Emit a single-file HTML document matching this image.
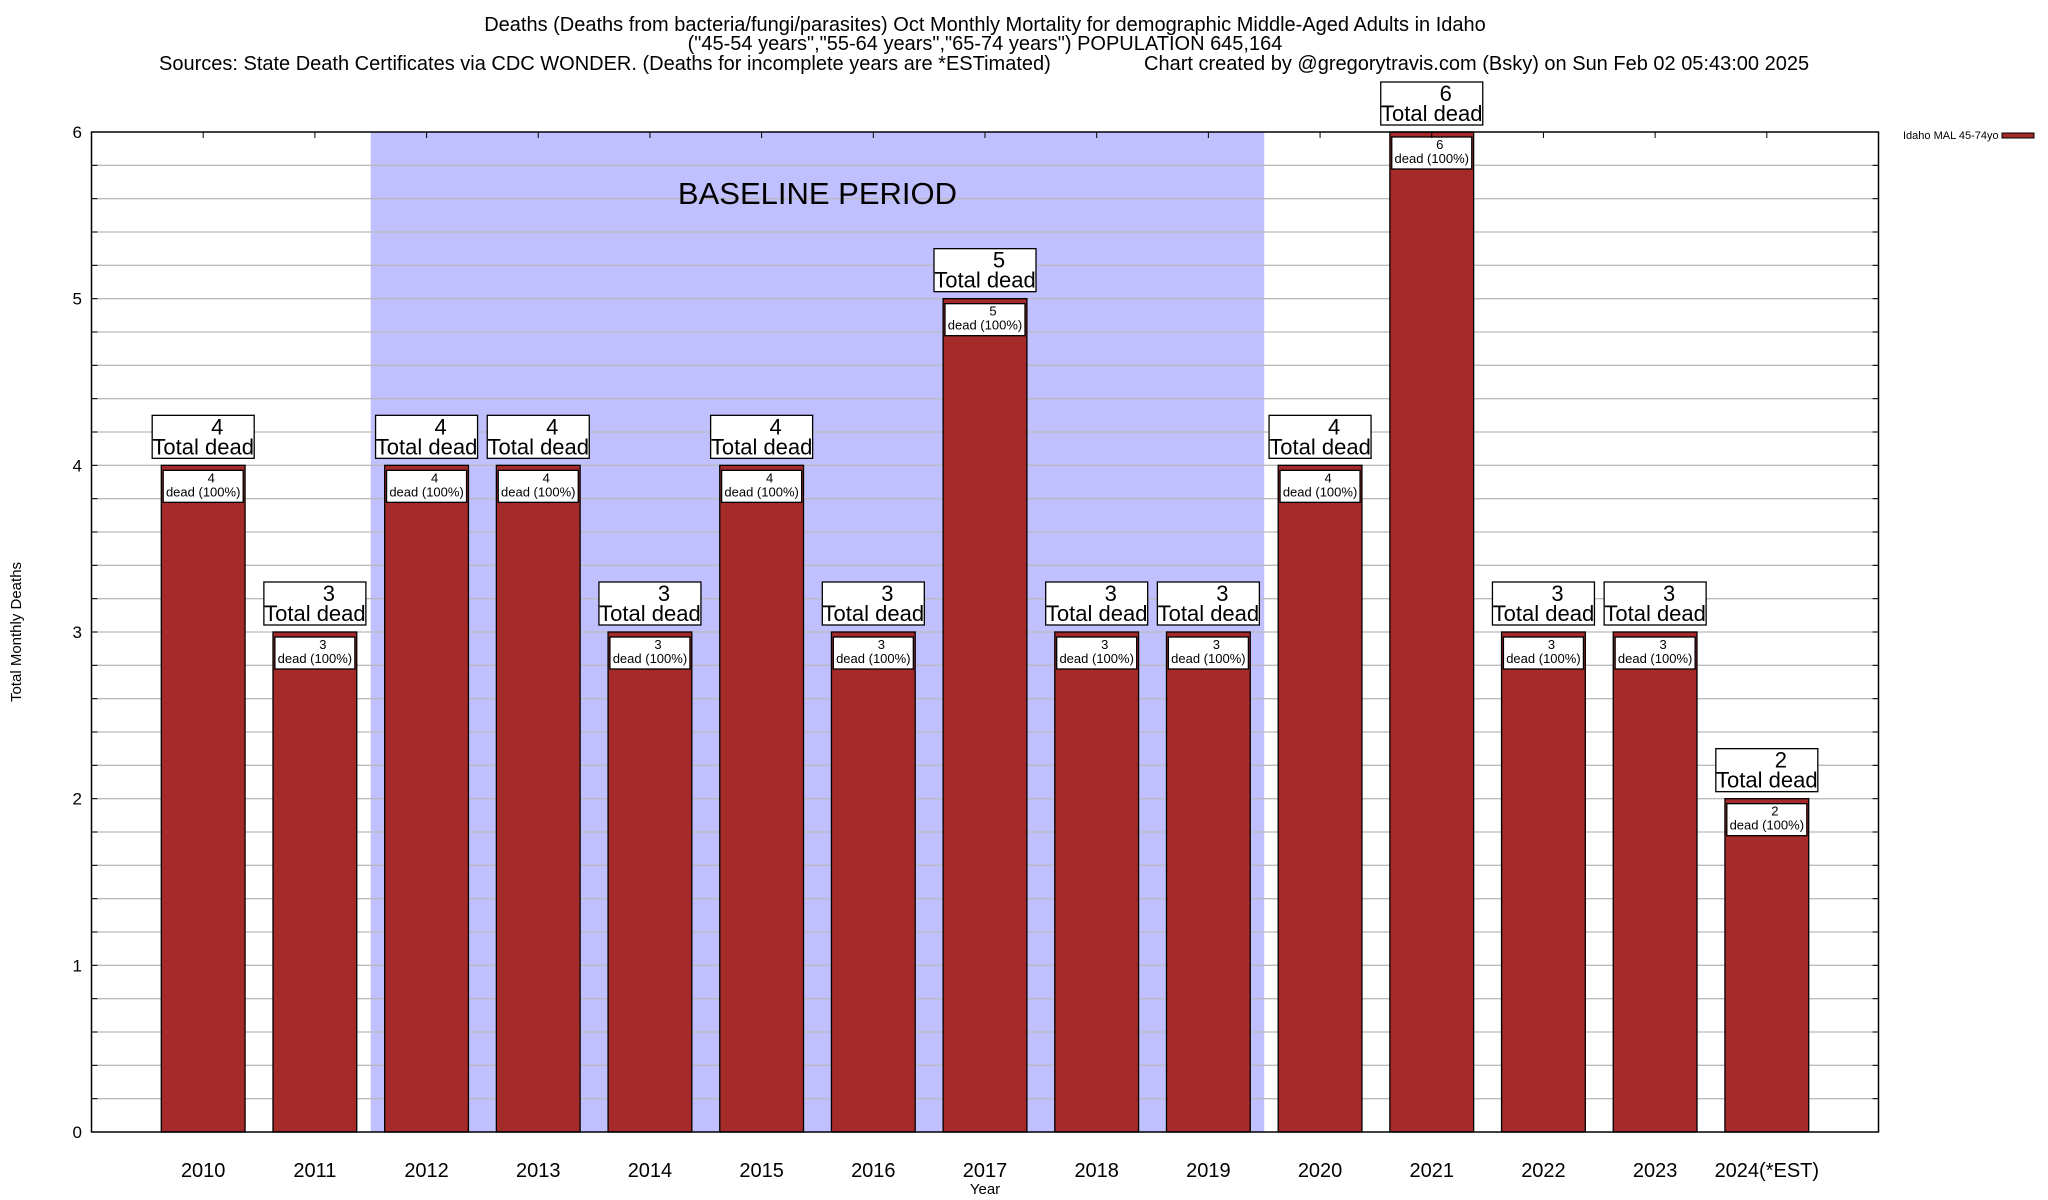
<!DOCTYPE html>
<html><head><meta charset="utf-8"><style>
html,body{margin:0;padding:0;background:#fff;}
svg{display:block;font-family:"Liberation Sans",sans-serif;}
</style></head><body>
<svg id="chart" width="2048" height="1200" viewBox="0 0 2048 1200" xmlns="http://www.w3.org/2000/svg">
<rect width="2048" height="1200" fill="#fff"/>
<g font-size="20" fill="#000">
<text x="985" y="31" text-anchor="middle">Deaths (Deaths from bacteria/fungi/parasites) Oct Monthly Mortality for demographic Middle-Aged Adults in Idaho</text>
<text x="985" y="50" text-anchor="middle">("45-54 years","55-64 years","65-74 years") POPULATION 645,164</text>
<text x="159" y="70">Sources: State Death Certificates via CDC WONDER. (Deaths for incomplete years are *ESTimated)</text>
<text x="1144" y="70">Chart created by @gregorytravis.com (Bsky) on Sun Feb 02 05:43:00 2025</text>
</g>
<g id="plot"></g>
</svg>
<script>
const categories = ["2010","2011","2012","2013","2014","2015","2016","2017","2018","2019","2020","2021","2022","2023","2024(*EST)"];
const deaths = [4,3,4,4,3,4,3,5,3,3,4,6,3,3,2];
const yTicks = [0,1,2,3,4,5,6];
const baselineStart = 2; // index of 2012
const baselineEnd = 9;   // index of 2019

const L=91.5, R=1878.5, T=132, B=1132, yMax=6;
const step=(R-L)/(categories.length+1);
const xs=i=>L+(i+1)*step;
const ys=v=>B-(v/yMax)*(B-T);
const NS="http://www.w3.org/2000/svg";
const plot=document.getElementById('plot');
function mk(tag,attrs,parent,text){const e=document.createElementNS(NS,tag);for(const k in attrs)e.setAttribute(k,attrs[k]);if(text!==undefined)e.textContent=text;(parent||plot).appendChild(e);return e;}

const bx0=xs(baselineStart)-step/2, bx1=xs(baselineEnd)+step/2;
const shade=mk('rect',{x:bx0,y:T,width:bx1-bx0,height:B-T,fill:'#c0c0ff'});



const grid=mk('g',{});


for(let k=1;k<yMax*5;k++){const y=ys(k/5);mk('line',{x1:L,x2:R,y1:y,y2:y,stroke:'#bbb','stroke-width':1.3},grid);
 mk('line',{x1:L,x2:L+6,y1:y,y2:y,stroke:'#000'},grid);mk('line',{x1:R-6,x2:R,y1:y,y2:y,stroke:'#000'},grid);}

const bt=mk('text',{x:(bx0+bx1)/2,y:204,'text-anchor':'middle','font-size':31},null,'BASELINE PERIOD');



const yAxis=mk('g',{'font-size':17});


yTicks.forEach(v=>{const t=mk('text',{x:82,y:ys(v)+6,'text-anchor':'end'},yAxis,String(v));
 
 });

deaths.forEach((v,i)=>{
 const cx=xs(i), bw=step*0.75, top=ys(v);
 const g=mk('g',{});
 
 
 mk('rect',{x:cx-bw/2,y:top,width:bw,height:B-top,fill:'#a52a2a',stroke:'#000','stroke-width':1.3},g);
 mk('rect',{x:cx-40,y:top+5,width:80,height:32,fill:'#fff',stroke:'#000','stroke-width':1.3},g);
 mk('text',{x:cx+8,y:top+17,'text-anchor':'middle','font-size':13},g,String(v));
 mk('text',{x:cx,y:top+31,'text-anchor':'middle','font-size':13},g,'dead (100%)');
 const lb=mk('g',{});
 
 
 mk('rect',{x:cx-51,y:top-50,width:102,height:43,fill:'#fff',stroke:'#000','stroke-width':1.3},lb);
 mk('text',{x:cx+14,y:top-31,'text-anchor':'middle','font-size':22},lb,String(v));
 mk('text',{x:cx,y:top-11,'text-anchor':'middle','font-size':22},lb,'Total dead');
 const xl=mk('text',{x:cx,y:1177,'text-anchor':'middle','font-size':20},null,categories[i]);
 
 
 mk('line',{x1:cx,x2:cx,y1:T,y2:T+6,stroke:'#000'});
});

const fr=mk('rect',{x:L,y:T,width:R-L,height:B-T,fill:'none',stroke:'#000','stroke-width':1.5});



const xt=mk('text',{x:985,y:1194,'text-anchor':'middle','font-size':15},null,'Year');


const yt=mk('text',{x:0,y:0,'text-anchor':'middle','font-size':15,transform:'translate(21,632) rotate(-90)'},null,'Total Monthly Deaths');



const lg=mk('g',{});


mk('text',{x:1903,y:139,'font-size':11},lg,'Idaho MAL 45-74yo');
mk('rect',{x:2002,y:133,width:32,height:5,fill:'#a52a2a',stroke:'#000','stroke-width':1},lg);
</script>
</body></html>
